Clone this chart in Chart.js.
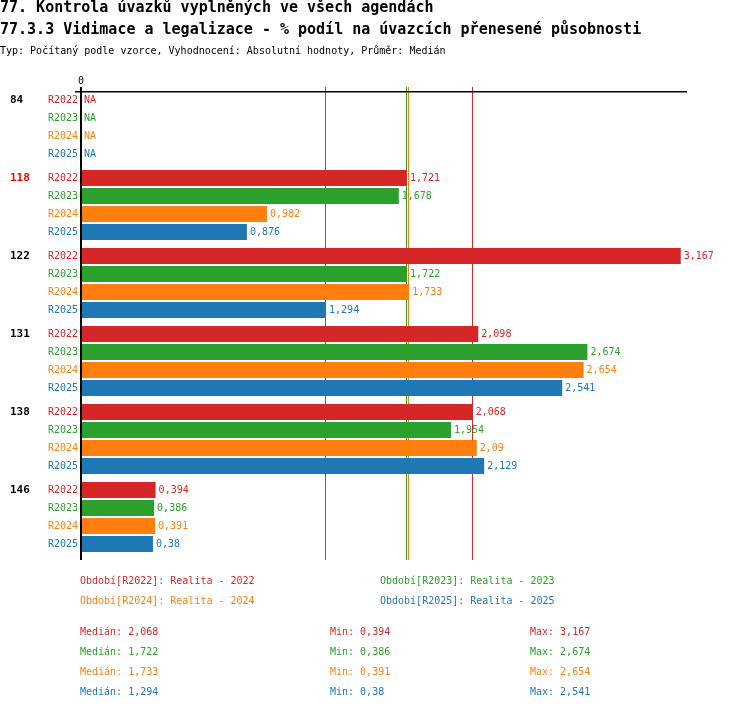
<!DOCTYPE html>
<html>
<head>
<meta charset="utf-8">
<script src="https://cdn.jsdelivr.net/npm/chart.js@4.4.1/dist/chart.umd.min.js"></script>
<style>
  body { margin: 0; background: #fff; font-family: "DejaVu Sans Mono", monospace; }
  #wrap { position: relative; width: 750px; height: 710px; overflow: hidden; }
  canvas { position: absolute; left: 0; top: 0; }
  .t { position: absolute; white-space: pre; }
  .h { font-size: 15px; line-height: 15px; font-weight: bold; }
  .s { font-size: 10px; line-height: 10px; }
</style>
</head>
<body>
<div id="wrap">
  <canvas id="chart" width="750" height="710"></canvas>
  <div class="t h" style="left:0px;top:0px">77. Kontrola úvazků vyplněných ve všech agendách</div>
  <div class="t h" style="left:0px;top:22px">77.3.3 Vidimace a legalizace - % podíl na úvazcích přenesené působnosti</div>
  <div class="t s" style="left:0px;top:46px">Typ: Počítaný podle vzorce, Vyhodnocení: Absolutní hodnoty, Průměr: Medián</div>
  <div id="legend"></div>
</div>
<script>
// data
const groups = ["84", "118", "122", "131", "138", "146"];
const highlighted = "118";
const series = ["R2022", "R2023", "R2024", "R2025"];
const seriesNames = ["Realita - 2022", "Realita - 2023", "Realita - 2024", "Realita - 2025"];
const colors = ["#d62728", "#2ca02c", "#ff7f0e", "#1f77b4"];

const r2022 = [null, 1.721, 3.167, 2.098, 2.068, 0.394];
const r2023 = [null, 1.678, 1.722, 2.674, 1.954, 0.386];
const r2024 = [null, 0.982, 1.733, 2.654, 2.09, 0.391];
const r2025 = [null, 0.876, 1.294, 2.541, 2.129, 0.38];
const values = [r2022, r2023, r2024, r2025];

const xMin = 0;
const xMax = 3.2;

function fmt(v) {
  return String(v).replace(".", ",");
}

function median(arr) {
  const a = arr.filter(v => v !== null).sort((p, q) => p - q);
  const m = Math.floor(a.length / 2);
  return a.length % 2 ? a[m] : (a[m - 1] + a[m]) / 2;
}

const stats = values.map(arr => {
  const a = arr.filter(v => v !== null);
  return { med: median(arr), min: Math.min(...a), max: Math.max(...a) };
});

// legend + stats below the chart
const legend = document.getElementById("legend");
function addText(txt, left, top, color) {
  const d = document.createElement("div");
  d.className = "t s";
  d.style.left = left + "px";
  d.style.top = top + "px";
  d.style.color = color;
  d.textContent = txt;
  legend.appendChild(d);
}
series.forEach((s, i) => {
  addText("Období[" + s + "]: " + seriesNames[i], i % 2 ? 380 : 80, 576 + Math.floor(i / 2) * 20, colors[i]);
  addText("Medián: " + fmt(stats[i].med), 80, 627 + i * 20, colors[i]);
  addText("Min: " + fmt(stats[i].min), 330, 627 + i * 20, colors[i]);
  addText("Max: " + fmt(stats[i].max), 530, 627 + i * 20, colors[i]);
});

const decorations = {
  id: "decorations",
  beforeDatasetsDraw(chart) {
    const { ctx, chartArea, scales: { x } } = chart;
    ctx.save();
    stats.forEach((st, i) => {
      const px = Math.round(x.getPixelForValue(st.med)) - 1;
      ctx.fillStyle = colors[i];
      ctx.fillRect(px, chartArea.top - 1, 1, chartArea.bottom - chartArea.top + 5);
    });
    ctx.restore();
  },
  afterDatasetsDraw(chart) {
    const { ctx, chartArea, scales: { x } } = chart;
    const x0 = x.getPixelForValue(0);
    ctx.save();
    // axes
    ctx.fillStyle = "#000";
    ctx.fillRect(x0 - 1, chartArea.top - 1, 2, chartArea.bottom - chartArea.top + 5);
    ctx.fillRect(x0 - 6, chartArea.top + 3, chartArea.right - x0 + 6, 1.5);
    ctx.font = '10px "DejaVu Sans Mono"';
    ctx.textAlign = "center";
    ctx.textBaseline = "middle";
    ctx.fillText("0", x0, chartArea.top - 7);

    series.forEach((s, i) => {
      const meta = chart.getDatasetMeta(i);
      meta.data.forEach((bar, j) => {
        const y = bar.y + 0.5;
        const v = values[i][j];
        ctx.font = '10px "DejaVu Sans Mono"';
        ctx.fillStyle = colors[i];
        ctx.textAlign = "right";
        ctx.fillText(s, x0 - 3, y);
        ctx.textAlign = "left";
        if (v === null) {
          ctx.fillText("NA", x0 + 3, y);
        } else {
          ctx.fillText(fmt(v), x.getPixelForValue(v) + 3, y);
        }
        if (i === 0) {
          ctx.font = 'bold 11px "DejaVu Sans Mono"';
          ctx.fillStyle = groups[j] === highlighted ? "#ff0000" : "#000";
          ctx.fillText(groups[j], 10, y);
        }
      });
    });
    ctx.restore();
  }
};

new Chart(document.getElementById("chart"), {
  type: "bar",
  data: {
    labels: groups,
    datasets: series.map((s, i) => ({
      label: s,
      data: values[i],
      backgroundColor: colors[i],
      borderWidth: 0,
      inflateAmount: 0,
      categoryPercentage: 72 / 78,
      barPercentage: 16 / 18
    }))
  },
  options: {
    indexAxis: "y",
    responsive: false,
    animation: false,
    layout: { padding: { left: 81, right: 63, top: 88, bottom: 154 } },
    plugins: { legend: { display: false }, tooltip: { enabled: false } },
    scales: {
      x: { display: false, min: xMin, max: xMax },
      y: { display: false }
    }
  },
  plugins: [decorations]
});
</script>
</body>
</html>
